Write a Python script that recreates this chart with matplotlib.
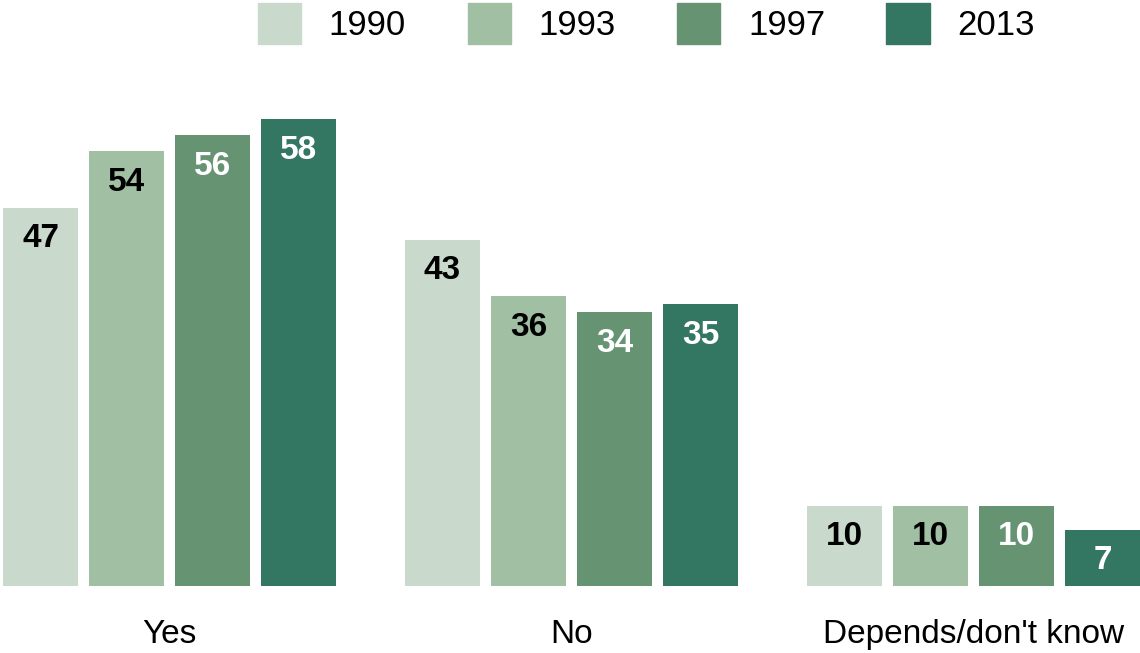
import matplotlib
matplotlib.use("Agg")
import matplotlib.pyplot as plt
from matplotlib.patches import Patch

FONT = ["Liberation Sans", "DejaVu Sans"]

categories = ["Yes", "No", "Depends/don't know"]
years = ["1990", "1993", "1997", "2013"]
values = {
    "1990": [47, 43, 10],
    "1993": [54, 36, 10],
    "1997": [56, 34, 10],
    "2013": [58, 35, 7],
}
colors = ["#c9d9cc", "#a0bfa3", "#669473", "#337661"]
label_colors = ["black", "black", "white", "white"]

W, H = 1140, 653
fig = plt.figure(figsize=(W / 100, H / 100), dpi=100)
ax = fig.add_axes([0, 67 / H, 1, 516 / H])

group_gap = 4.674
bar_w = 0.87
ax.set_xlim(-0.471, 12.785)
ax.set_ylim(0, 516 / 8.05)

for j, (yr, col, lc) in enumerate(zip(years, colors, label_colors)):
    xs = [i * group_gap + j for i in range(len(categories))]
    bars = ax.bar(xs, values[yr], width=bar_w, color=col, label=yr)
    for b, v in zip(bars, values[yr]):
        ax.annotate(str(v), (b.get_x() + b.get_width() / 2, v),
                    xytext=(0, -31), textcoords="offset pixels",
                    ha="center", va="center", fontsize=24, fontweight="bold",
                    family=FONT, color=lc)

ax.set_xticks([i * group_gap + 1.5 for i in range(len(categories))])
ax.set_xticklabels(categories, family=FONT, fontsize=24)
ax.tick_params(axis="x", length=0, pad=24)
ax.set_yticks([])
for s in ax.spines.values():
    s.set_visible(False)

handles = [Patch(color=c) for c in colors]
fig.legend(handles, years, loc="upper center", bbox_to_anchor=(0.567, 1.027),
           ncol=4, frameon=False, prop={"family": FONT, "size": 25},
           handlelength=1.24, handleheight=1.45, handletextpad=0.8,
           columnspacing=1.77, borderpad=0.1)

fig.savefig("out.png", dpi=100)
